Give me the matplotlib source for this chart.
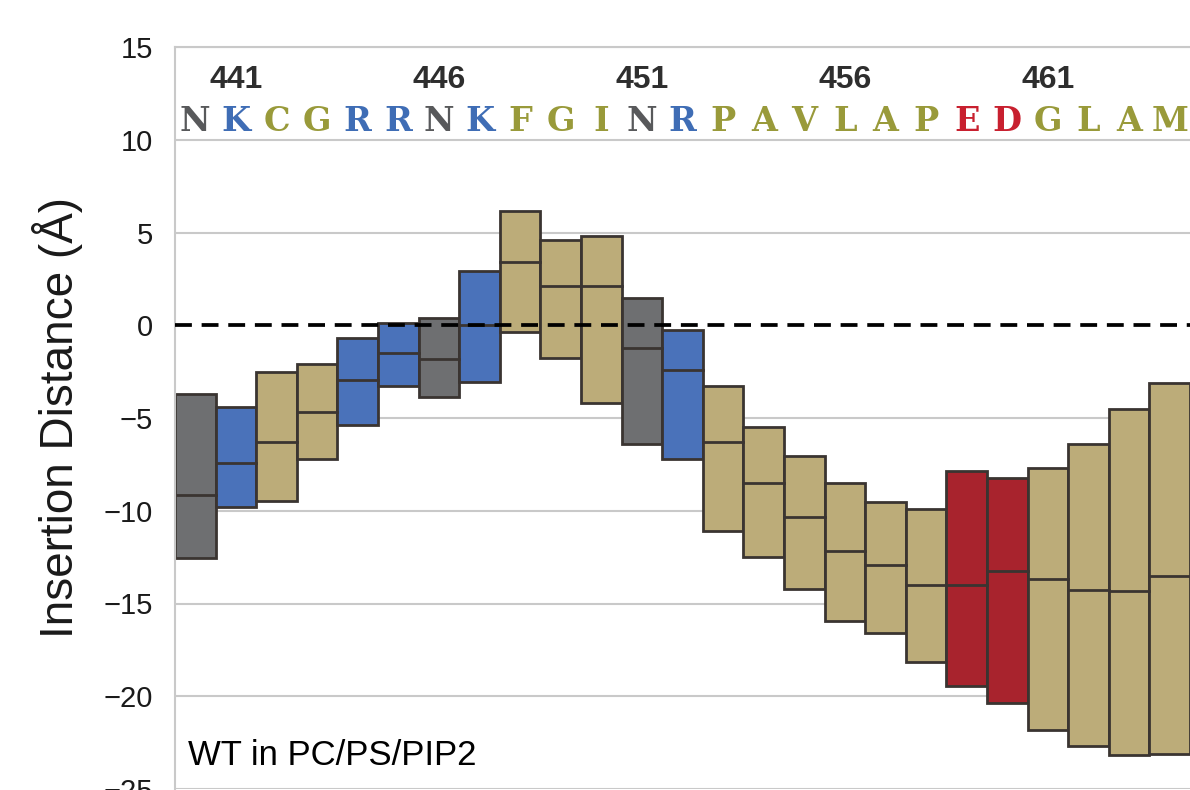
import matplotlib
matplotlib.use("Agg")
import matplotlib.pyplot as plt
from matplotlib.patches import Rectangle

# residues 440-464
residues = list("NKCGRRNKFGINRPAVLAPEDGLAM")
first_resnum = 440
labeled_resnums = [441, 446, 451, 456, 461]

# residue class: g = polar (gray), b = basic (blue), t = hydrophobic (tan), r = acidic (red)
res_class = ["g", "b", "t", "t", "b", "b", "g", "b", "t", "t", "t", "g", "b",
             "t", "t", "t", "t", "t", "t", "r", "r", "t", "t", "t", "t"]

# insertion distance (Å): box top, median, bottom
top = [-3.7, -4.4, -2.5, -2.1, -0.7, 0.1, 0.4, 2.9, 6.15, 4.6, 4.8, 1.45, -0.25,
       -3.3, -5.5, -7.05, -8.5, -9.55, -9.9, -7.85, -8.25, -7.7, -6.4, -4.5, -3.1]
median = [-9.15, -7.45, -6.3, -4.65, -2.95, -1.5, -1.8, 0.0, 3.4, 2.1, 2.1, -1.2, -2.4,
          -6.3, -8.5, -10.35, -12.15, -12.9, -14.0, -14.0, -13.25, -13.7, -14.25, -14.3, -13.5]
bottom = [-12.55, -9.8, -9.45, -7.2, -5.4, -3.25, -3.85, -3.05, -0.35, -1.75, -4.2, -6.4, -7.2,
          -11.1, -12.5, -14.2, -15.95, -16.6, -18.15, -19.45, -20.35, -21.8, -22.7, -23.15, -23.1]

box_colors = {"g": "#6e6f71", "b": "#4a72ba", "t": "#bcac79", "r": "#a8232d"}
text_colors = {"g": "#58595b", "b": "#3f6db5", "t": "#999a3a", "r": "#c8202f"}
edge = "#3a3431"

fig = plt.figure(figsize=(11.9, 7.9), dpi=100)
ax = fig.add_axes([175 / 1190, 1 / 790, 1015 / 1190, 742 / 790])

ax.set_xlim(0, 25)
ax.set_ylim(-25, 15)

# grid
for y in range(-25, 16, 5):
    if y == 0:
        continue
    ax.axhline(y, color="#c9c9c9", lw=1.5, zorder=0)
ax.axhline(0, color="black", lw=2.7, ls=(0, (4.5, 2.6)), zorder=3)

for i in range(len(residues)):
    c = box_colors[res_class[i]]
    ax.add_patch(Rectangle((i, bottom[i]), 1, top[i] - bottom[i],
                           facecolor=c, edgecolor=edge, lw=2.0, zorder=2))
    ax.plot([i, i + 1], [median[i], median[i]], color=edge, lw=2.0, zorder=2.5)
    ax.text(i + 0.5, 10.45, residues[i], ha="center", va="baseline",
            family=["DejaVu Serif"], fontweight="bold",
            fontsize=24, color=text_colors[res_class[i]])

for n in labeled_resnums:
    ax.text(n - first_resnum + 0.5, 12.8, str(n), ha="center", va="baseline",
            family=["Liberation Sans Narrow", "Liberation Sans"], fontweight="bold",
            fontsize=23, color="#2e2e2e")

ax.text(0.32, -23.7, "WT in PC/PS/PIP2", ha="left", va="baseline",
        family="Liberation Sans", fontsize=25, color="black")

ax.set_yticks(range(-25, 16, 5))
ax.set_yticklabels(["\u221225", "\u221220", "\u221215", "\u221210", "\u22125", "0", "5", "10", "15"],
                   family="Liberation Sans", fontsize=21, color="#1a1a1a")
ax.tick_params(axis="y", length=0, pad=16)
ax.set_xticks([])

for s in ["top", "right", "bottom"]:
    ax.spines[s].set_visible(False)
ax.spines["left"].set_color("#c9c9c9")
ax.spines["left"].set_linewidth(1.5)
ax.axhline(15, color="#c9c9c9", lw=1.5, zorder=0, clip_on=False)

fig.text(58 / 1190, 1 - 417 / 790, "Insertion Distance (\u00c5)", rotation=90,
         ha="center", va="center", family="Liberation Sans", fontsize=33, color="#1a1a1a")

fig.savefig("out.png", dpi=100)
